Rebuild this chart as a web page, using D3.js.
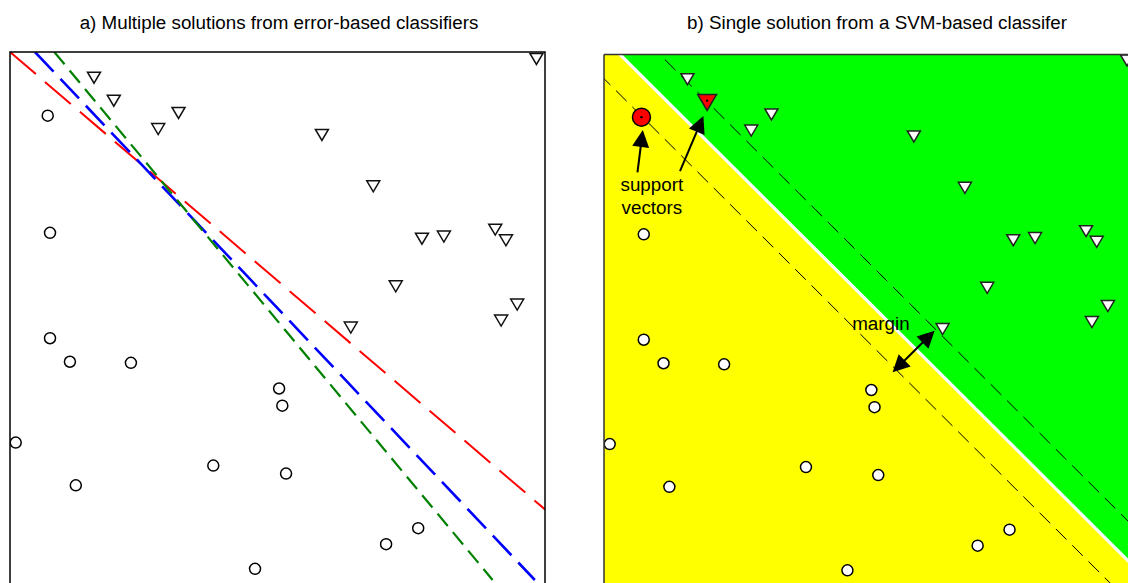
<!DOCTYPE html>
<html>
<head>
<meta charset="utf-8">
<script src="https://cdn.jsdelivr.net/npm/d3@7"></script>
<style>
  html, body { margin: 0; padding: 0; background: #fff; }
  svg { display: block; }
  text { font-family: "Liberation Sans", Arial, sans-serif; }
</style>
</head>
<body>
<script>
// ---------------- DATA ----------------
const titles = ["a) Multiple solutions from error-based classifiers",
                "b) Single solution from a SVM-based classifer"];

// class 1 (circles), data units
const circleX = [0.705, 0.748, 0.748, 1.12, 2.26, 0.107, 1.23, 3.80, 5.03, 5.09, 5.16, 4.58, 7.03, 7.63];
const circleY = [8.81, 6.62, 4.65, 4.21, 4.19, 2.70, 1.90, 2.27, 3.71, 3.39, 2.12, 0.34, 0.80, 1.10];

// class 2 (triangles)
const triX = [1.57, 1.94, 3.15, 2.77, 9.84, 5.83, 6.79, 7.70, 8.11, 9.07, 9.27, 7.21, 6.37, 9.18, 9.48];
const triY = [9.53, 9.10, 8.87, 8.57, 9.88, 8.46, 7.50, 6.52, 6.56, 6.69, 6.49, 5.63, 4.86, 4.99, 5.29];

// support vectors (indices)
const supportCircle = 0;
const supportTri = 1;

// error-based classifier lines: [x0,y0,x1,y1]
const lineNames = ["red", "blue", "green"];
const lineEnds = [[0, 10, 10, 1.45], [0.467, 10, 9.81, 0.131], [0.828, 10, 9.02, 0.131]];

// SVM lines: intercept at x=0 and slope
const svmSlope = -0.99;
const svmBoundary = 10.28;
const svmUpper = 11.02;
const svmLower = 9.53;

// annotations (data units of panel b)
const arrowSV1 = [0.63, 7.78, 0.73, 8.57];
const arrowSV2 = [1.43, 7.80, 1.87, 8.83];
const arrowMargin = [5.43, 4.04, 6.22, 4.82];
const labelSupport = {x: 0.90, y: [7.43, 7.00], lines: ["support", "vectors"]};
const labelMargin = {x: 5.21, y: 4.84, text: "margin"};

// ---------------- DRAW ----------------
const W = 1128, H = 583;
const FS = 18.8;
const svg = d3.select("body").append("svg").attr("width", W).attr("height", H);

const xL = d3.scaleLinear().domain([0, 10]).range([10, 545]);
const yL = d3.scaleLinear().domain([0, 10]).range([587, 52]);
const xR = d3.scaleLinear().domain([0, 10]).range([604, 1135.5]);
const yR = d3.scaleLinear().domain([0, 10]).range([588.5, 53.5]);
const rLeft = 604, rTop = 54.5;

const defs = svg.append("defs");
defs.append("clipPath").attr("id", "clipL").append("rect")
  .attr("x", xL(0)).attr("y", yL(10)).attr("width", xL(10) - xL(0)).attr("height", yL(0) - yL(10));
defs.append("clipPath").attr("id", "clipR").append("rect")
  .attr("x", rLeft).attr("y", rTop).attr("width", xR(10) - rLeft).attr("height", yR(0) - rTop + 5);

const circles = circleX.map((x, i) => ({x, y: circleY[i], i}));
const tris = triX.map((x, i) => ({x, y: triY[i], i}));

function triPath(cx, cy, w, h) {
  const top = cy - h * 0.45, bot = cy + h * 0.55;
  return `M${cx - w / 2},${top}L${cx + w / 2},${top}L${cx},${bot}Z`;
}

// titles
svg.append("text").attr("x", 279).attr("y", 29)
  .attr("text-anchor", "middle").attr("font-size", FS).attr("fill", "#000").text(titles[0]);
svg.append("text").attr("x", 877).attr("y", 29)
  .attr("text-anchor", "middle").attr("font-size", FS).attr("fill", "#000").text(titles[1]);

// ---- Panel a ----
const gL = svg.append("g");
const gLc = gL.append("g").attr("clip-path", "url(#clipL)");
const lineColors = {red: "#ff0000", blue: "#0000ff", green: "#008000"};
const lineDash = {red: "34,12", blue: "27,10", green: "16,8"};
const lineWidth = {red: 2, blue: 2.6, green: 2.2};
lineNames.forEach((n, k) => {
  const e = lineEnds[k];
  gLc.append("line")
    .attr("x1", xL(e[0])).attr("y1", yL(e[1])).attr("x2", xL(e[2])).attr("y2", yL(e[3]))
    .attr("stroke", lineColors[n]).attr("stroke-width", lineWidth[n])
    .attr("stroke-dasharray", lineDash[n]);
});
gLc.selectAll("circle.pt").data(circles).join("circle")
  .attr("cx", d => xL(d.x)).attr("cy", d => yL(d.y)).attr("r", 5.5)
  .attr("fill", "#fff").attr("stroke", "#000").attr("stroke-width", 1.5);
gLc.selectAll("path.tri").data(tris).join("path")
  .attr("d", d => triPath(xL(d.x), yL(d.y), 13, 11))
  .attr("fill", "#fff").attr("stroke", "#111").attr("stroke-width", 1.5).attr("stroke-linejoin", "miter");
gL.append("rect").attr("x", xL(0)).attr("y", yL(10)).attr("width", xL(10) - xL(0)).attr("height", yL(0) - yL(10))
  .attr("fill", "none").attr("stroke", "#000").attr("stroke-width", 1.5);

// ---- Panel b ----
const gR = svg.append("g");
const gRc = gR.append("g").attr("clip-path", "url(#clipR)");
gRc.append("rect").attr("x", rLeft).attr("y", rTop).attr("width", xR(10) - rLeft).attr("height", yR(0) - rTop + 5)
  .attr("fill", "#ffff00");
const bAt = (b, x) => b + svmSlope * x;
gRc.append("path")
  .attr("d", `M${xR(-1)},${yR(bAt(svmBoundary, -1))}L${xR(11)},${yR(bAt(svmBoundary, 11))}L${xR(11)},${yR(12)}L${xR(-1)},${yR(12)}Z`)
  .attr("fill", "#00ff00");
gRc.append("line")
  .attr("x1", xR(-1)).attr("y1", yR(bAt(svmBoundary, -1))).attr("x2", xR(11)).attr("y2", yR(bAt(svmBoundary, 11)))
  .attr("stroke", "#fff").attr("stroke-width", 3.2);
[svmUpper, svmLower].forEach(b => {
  gRc.append("line")
    .attr("x1", xR(-1)).attr("y1", yR(bAt(b, -1))).attr("x2", xR(11)).attr("y2", yR(bAt(b, 11)))
    .attr("stroke", "#000").attr("stroke-width", 1).attr("stroke-dasharray", "15,8");
});
gRc.selectAll("circle.pt").data(circles).join("circle")
  .attr("cx", d => xR(d.x)).attr("cy", d => yR(d.y))
  .attr("r", d => d.i === supportCircle ? 9 : 5.5)
  .attr("fill", d => d.i === supportCircle ? "#ff0000" : "#fff")
  .attr("stroke", "#000").attr("stroke-width", 1.5);
gRc.selectAll("path.tri").data(tris).join("path")
  .attr("d", d => d.i === supportTri ? triPath(xR(d.x), yR(d.y), 19, 16) : triPath(xR(d.x), yR(d.y), 13, 11))
  .attr("fill", d => d.i === supportTri ? "#ff0000" : "#fff")
  .attr("stroke", "#222").attr("stroke-width", 1.5);
// center dots of support vectors
gRc.append("circle").attr("cx", xR(circleX[supportCircle])).attr("cy", yR(circleY[supportCircle])).attr("r", 1.2).attr("fill", "#000");
gRc.append("circle").attr("cx", xR(triX[supportTri])).attr("cy", yR(triY[supportTri]) - 1).attr("r", 1.2).attr("fill", "#000");

function arrowHead(g, xt, yt, ux, uy, len, wid) {
  const bx = xt - ux * len, by = yt - uy * len;
  const px = -uy, py = ux;
  g.append("path").attr("d",
    `M${xt},${yt}L${bx + px * wid / 2},${by + py * wid / 2}L${bx - px * wid / 2},${by - py * wid / 2}Z`)
    .attr("fill", "#000");
}
function arrow(g, a, both) {
  const x1 = xR(a[0]), y1 = yR(a[1]), x2 = xR(a[2]), y2 = yR(a[3]);
  const L = Math.hypot(x2 - x1, y2 - y1), ux = (x2 - x1) / L, uy = (y2 - y1) / L;
  const hl = 17, hw = 17;
  const sx = both ? x1 + ux * (hl - 2) : x1, sy = both ? y1 + uy * (hl - 2) : y1;
  g.append("line").attr("x1", sx).attr("y1", sy).attr("x2", x2 - ux * (hl - 2)).attr("y2", y2 - uy * (hl - 2))
    .attr("stroke", "#000").attr("stroke-width", 2);
  arrowHead(g, x2, y2, ux, uy, hl, hw);
  if (both) arrowHead(g, x1, y1, -ux, -uy, hl, hw);
}
arrow(gRc, arrowSV1, false);
arrow(gRc, arrowSV2, false);
arrow(gRc, arrowMargin, true);

labelSupport.lines.forEach((t, k) => {
  gRc.append("text").attr("x", xR(labelSupport.x)).attr("y", yR(labelSupport.y[k]))
    .attr("text-anchor", "middle").attr("font-size", FS).attr("fill", "#000").text(t);
});
gRc.append("text").attr("x", xR(labelMargin.x)).attr("y", yR(labelMargin.y))
  .attr("text-anchor", "middle").attr("font-size", FS).attr("fill", "#000").text(labelMargin.text);

gR.append("line").attr("x1", rLeft).attr("y1", rTop).attr("x2", xR(10)).attr("y2", rTop)
  .attr("stroke", "#333").attr("stroke-width", 1.5);
gR.append("line").attr("x1", rLeft).attr("y1", rTop).attr("x2", rLeft).attr("y2", H + 5)
  .attr("stroke", "#333").attr("stroke-width", 1.5);
</script>
</body>
</html>
